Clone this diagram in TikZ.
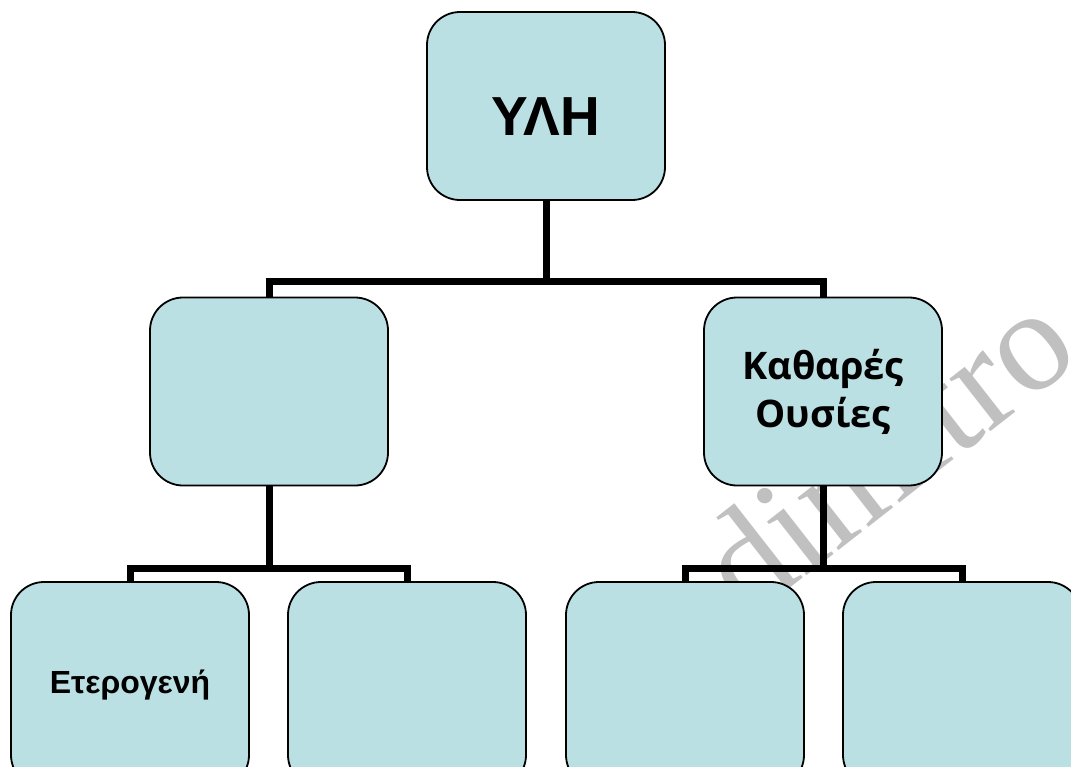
\documentclass[tikz,border=0pt]{standalone}
\usepackage{fontspec}
\setmainfont{Liberation Sans}
\newfontfamily\osans{Open Sans}
\newfontfamily\wmfont{Liberation Serif}
\definecolor{boxfill}{RGB}{187,224,227}
\definecolor{wmgray}{RGB}{192,192,192}
\tikzset{
  box/.style={draw=black, line width=1.8pt, fill=boxfill, rounded corners=33pt,
    minimum width=238pt, minimum height=188pt, inner sep=0pt, align=center},
  lowbox/.style={box, minimum height=206pt},
  conn/.style={draw=black, line width=7pt, line join=miter},
  wm/.style={text=wmgray, font=\wmfont\fontsize{145}{145}\selectfont, inner sep=0pt}
}
\begin{document}
\begin{tikzpicture}[x=1pt, y=-1pt]
\useasboundingbox (0,0) rectangle (1071,766);
\clip (0,0) rectangle (1071,766);
\fill[white] (0,0) rectangle (1071,766);
% watermark
\node[wm, rotate=38, anchor=base west] (wmark) at (747,622) {dimitro};
% boxes
\node[box, font=\bfseries\fontsize{55}{60}\selectfont] (top) at (546,106) {\raisebox{-29pt}[0pt][0pt]{ΥΛΗ}};
\node[box] (ml) at (269,391.5) {};
\node[box, font=\osans\bfseries\fontsize{38}{48}\selectfont] (mr) at (823,391.5) {Καθαρές\\Ουσίες};
\node[lowbox, font=\bfseries\fontsize{32}{36}\selectfont] (b1) at (130,685) {Ετερογενή};
\node[lowbox] (b2) at (407,685) {};
\node[lowbox] (b3) at (685,685) {};
\node[lowbox] (b4) at (962,685) {};
% junctions
\coordinate (j1) at (546,281);
\coordinate (j2) at (269,568);
\coordinate (j3) at (823,568);
\draw[conn] (top.south) -- (j1);
\draw[conn] (ml.north) |- (j1) -| (mr.north);
\draw[conn] (ml.south) -- (j2);
\draw[conn] (b1.north) |- (j2) -| (b2.north);
\draw[conn] (mr.south) -- (j3);
\draw[conn] (b3.north) |- (j3) -| (b4.north);
\end{tikzpicture}
\end{document}
